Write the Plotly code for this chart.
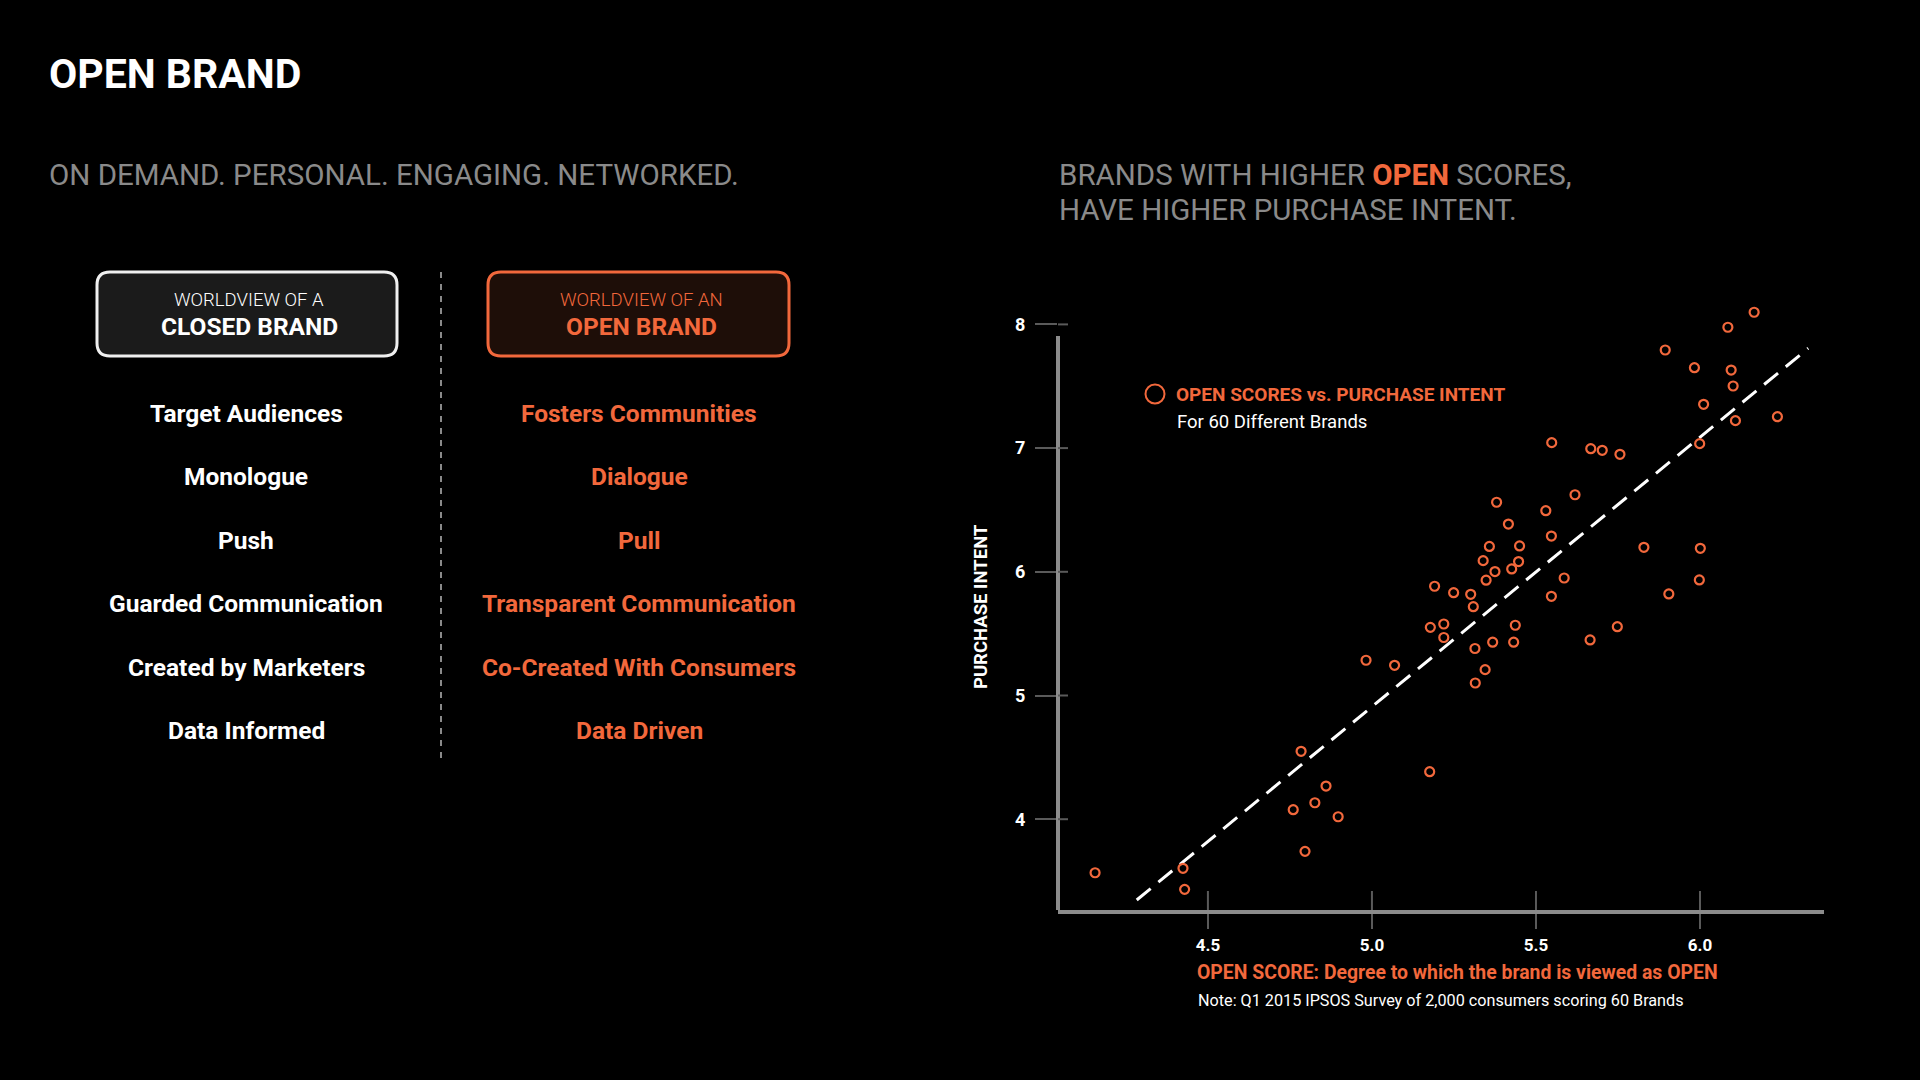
import plotly.graph_objects as go

# ---------------- data ----------------
open_score = [6.165, 6.085, 5.894, 5.983, 6.095, 6.101, 6.011, 6.236, 6.108, 5.999,
              5.548, 5.667, 5.702, 5.756, 5.619, 5.380, 5.530, 5.416, 5.547, 5.358,
              5.450, 5.829, 6.001, 5.339, 5.447, 5.375, 5.426, 5.348, 5.586, 5.998,
              5.249, 5.301, 5.547, 5.905, 5.309, 5.191, 5.178, 5.219, 5.219, 4.982,
              5.069, 4.784, 5.176, 4.860, 4.826, 4.760, 4.897, 4.796, 4.156, 4.424,
              4.429, 5.437, 5.368, 5.432, 5.314, 5.345, 5.315, 5.665, 5.748]
purchase_intent = [8.098, 7.977, 7.793, 7.650, 7.631, 7.502, 7.354, 7.254, 7.222, 7.036,
                   7.044, 6.995, 6.982, 6.950, 6.623, 6.562, 6.494, 6.386, 6.289, 6.205,
                   6.209, 6.198, 6.190, 6.090, 6.083, 6.002, 6.023, 5.932, 5.950, 5.934,
                   5.831, 5.818, 5.802, 5.821, 5.718, 5.883, 5.551, 5.578, 5.469, 5.285,
                   5.244, 4.549, 4.384, 4.268, 4.133, 4.077, 4.020, 3.740, 3.567, 3.603,
                   3.433, 5.568, 5.431, 5.431, 5.380, 5.209, 5.101, 5.449, 5.556]
trend_x = [4.283, 6.330]
trend_y = [3.347, 7.807]

x_ticks = [4.5, 5.0, 5.5, 6.0]
x_tick_labels = ["4.5", "5.0", "5.5", "6.0"]
y_ticks = [4, 5, 6, 7, 8]
y_tick_labels = ["4", "5", "6", "7", "8"]

closed_traits = ["Target Audiences", "Monologue", "Push", "Guarded Communication",
                 "Created by Marketers", "Data Informed"]
open_traits = ["Fosters Communities", "Dialogue", "Pull", "Transparent Communication",
               "Co-Created With Consumers", "Data Driven"]

# ---------------- style ----------------
ORANGE = "#F2683C"
GRAY = "#8a8a8a"
FONT = "Roboto"
W, H = 1920, 1080
L, R, T, B = 1058, 1824, 290, 910
X_RANGE = [4.043, 6.378]
Y_RANGE = [3.266, 8.278]
Y_LINE_TOP = 7.906


def PX(px):
    return (px - L) / (R - L)


def PY(py):
    return (B - py) / (B - T)


fig = go.Figure()

fig.add_trace(go.Scatter(
    x=trend_x, y=trend_y, mode="lines",
    line=dict(color="white", width=3, dash="18px,10px"),
    hoverinfo="skip", showlegend=False))

fig.add_trace(go.Scatter(
    x=open_score, y=purchase_intent, mode="markers",
    marker=dict(symbol="circle-open", size=9, color=ORANGE, line=dict(width=2.2, color=ORANGE)),
    showlegend=False, cliponaxis=False))

shapes = []
annotations = []

# y axis line (stops below top tick)
shapes.append(dict(type="line", xref="paper", yref="y", x0=0, x1=0,
                   y0=Y_RANGE[0], y1=Y_LINE_TOP, line=dict(color="#8c8c8c", width=4)))
# inner portions of the crossing ticks
for v in y_ticks:
    shapes.append(dict(type="line", xref="paper", yref="y", xsizemode="pixel", xanchor=0,
                       x0=0, x1=10, y0=v, y1=v, line=dict(color="#5a5a5a", width=2)))
for v in x_ticks:
    shapes.append(dict(type="line", xref="x", yref="paper", ysizemode="pixel", yanchor=0,
                       x0=v, x1=v, y0=0, y1=19, line=dict(color="#5a5a5a", width=2)))


def rounded_box(x0, y0, x1, y1, r, fill, border):
    rx = r / (R - L)
    ry = r / (B - T)
    a, b, c, d = PX(x0), PX(x1), PY(y1), PY(y0)  # left, right, bottom, top
    path = (f"M {a+rx},{d} L {b-rx},{d} Q {b},{d} {b},{d-ry} L {b},{c+ry} "
            f"Q {b},{c} {b-rx},{c} L {a+rx},{c} Q {a},{c} {a},{c+ry} L {a},{d-ry} "
            f"Q {a},{d} {a+rx},{d} Z")
    return dict(type="path", xref="paper", yref="paper", path=path,
                fillcolor=fill, line=dict(color=border, width=3), layer="below")


shapes.append(rounded_box(97, 272, 397, 356, 13, "#1b1b1b", "#f0f0f0"))
shapes.append(rounded_box(488, 272, 789, 356, 13, "#1e0e08", ORANGE))

# dashed divider
shapes.append(dict(type="line", xref="paper", yref="paper", x0=PX(441), x1=PX(441),
                   y0=PY(272), y1=PY(762), line=dict(color="#8a8a8a", width=2, dash="6px,6px")))

# legend circle
shapes.append(dict(type="circle", xref="paper", yref="paper", xsizemode="pixel", ysizemode="pixel",
                   xanchor=PX(1155), yanchor=PY(394), x0=-9.5, x1=9.5, y0=-9.5, y1=9.5,
                   line=dict(color=ORANGE, width=2)))


def text(s, x, y, size, color="white", weight="normal", xanchor="left", yanchor="middle", angle=0):
    annotations.append(dict(text=s, x=PX(x), y=PY(y), xref="paper", yref="paper",
                            xanchor=xanchor, yanchor=yanchor, showarrow=False, textangle=angle,
                            font=dict(family=FONT, size=size, color=color, weight=weight)))


text("OPEN BRAND", 47, 74, 41, weight="bold")
text("ON DEMAND. PERSONAL. ENGAGING. NETWORKED.", 47, 175, 29.5, color=GRAY)
text("BRANDS WITH HIGHER <b><span style='color:%s'>OPEN</span></b> SCORES," % ORANGE, 1057, 175, 29.5, color=GRAY)
text("HAVE HIGHER PURCHASE INTENT.", 1057, 210, 29.5, color=GRAY)

text("WORLDVIEW OF A", 249, 300, 18.5, weight=300, xanchor="center")
text("CLOSED BRAND", 249, 326, 24.5, weight="bold", xanchor="center")
text("WORLDVIEW OF AN", 641, 300, 18.5, color=ORANGE, weight=300, xanchor="center")
text("OPEN BRAND", 641, 326, 24.5, color=ORANGE, weight="bold", xanchor="center")

row_y = [413, 476, 540, 603, 667, 730]
for yy, a, b in zip(row_y, closed_traits, open_traits):
    text(a, 246, yy, 24.5, weight="bold", xanchor="center")
    text(b, 639, yy, 24.5, color=ORANGE, weight="bold", xanchor="center")

text("OPEN SCORES vs. PURCHASE INTENT", 1174, 394, 19, color=ORANGE, weight="bold")
text("For 60 Different Brands", 1175, 422, 18.5)

text("PURCHASE INTENT", 981, 607, 18.5, weight="bold", xanchor="center", angle=-90)
text("OPEN SCORE: Degree to which the brand is viewed as OPEN", 1195, 972, 19.4, color=ORANGE, weight="bold")
text("Note: Q1 2015 IPSOS Survey of 2,000 consumers scoring 60 Brands", 1196, 1000, 16.2)

fig.update_layout(
    width=W, height=H,
    paper_bgcolor="black", plot_bgcolor="black",
    margin=dict(l=L, r=W - R, t=T, b=H - B, pad=0),
    font=dict(family=FONT, color="white"),
    shapes=shapes, annotations=annotations,
    xaxis=dict(range=X_RANGE, showgrid=False, zeroline=False, showline=True,
               linecolor="#8c8c8c", linewidth=4,
               tickmode="array", tickvals=x_ticks, ticktext=x_tick_labels,
               ticks="outside", ticklen=15, tickwidth=2, tickcolor="#5a5a5a",
               ticklabelstandoff=2,
               tickfont=dict(family=FONT, size=17, color="white", weight="bold")),
    yaxis=dict(range=Y_RANGE, showgrid=False, zeroline=False, showline=False,
               tickmode="array", tickvals=y_ticks, ticktext=y_tick_labels,
               ticks="outside", ticklen=22, tickwidth=2, tickcolor="#5a5a5a",
               ticklabelstandoff=6,
               tickfont=dict(family=FONT, size=18, color="white", weight="bold")),
)

fig.write_html("out.html", config={"displayModeBar": False},
               post_script="document.body.style.margin='0';document.body.style.background='black';")
